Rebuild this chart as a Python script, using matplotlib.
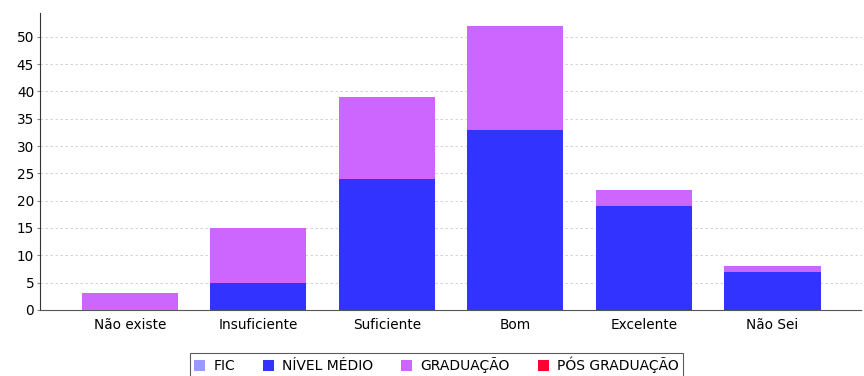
import matplotlib.pyplot as plt
import numpy as np

categorias = ['Não existe', 'Insuficiente', 'Suficiente', 'Bom', 'Excelente', 'Não Sei']
series = ['FIC', 'NÍVEL MÉDIO', 'GRADUAÇÃO', 'PÓS GRADUAÇÃO']
fic = [0, 0, 0, 0, 0, 0]
nivel_medio = [0, 5, 24, 33, 19, 7]
graduacao = [3, 10, 15, 19, 3, 1]
pos_graduacao = [0, 0, 0, 0, 0, 0]
cores = ['#9999ff', '#3333ff', '#cc66ff', '#ff0033']

fig = plt.figure(figsize=(8.64, 3.76), dpi=100)
ax = fig.add_axes([0.046, 0.176, 0.952, 0.79])

x = np.arange(len(categorias))
base = np.zeros(len(categorias))
for nome, vals, cor in zip(series, [fic, nivel_medio, graduacao, pos_graduacao], cores):
    ax.bar(x, vals, width=0.75, bottom=base, color=cor, label=nome, zorder=3)
    base = base + np.array(vals)

ax.set_xlim(-0.7, 5.7)
ax.set_ylim(0, 54.4)
ax.set_yticks(range(0, 55, 5))
ax.set_xticks(x)
ax.set_xticklabels(categorias, fontsize=9.8)
ax.tick_params(axis='y', labelsize=9.8, length=2, color='#888888', pad=2)
ax.tick_params(axis='x', length=0, pad=6)
ax.grid(axis='y', color='#cccccc', linestyle=(0, (3, 3)), linewidth=0.6, zorder=0)
for s in ['top', 'right']:
    ax.spines[s].set_visible(False)
ax.spines['left'].set_color('#333333')
ax.spines['bottom'].set_color('#555555')
ax.spines['bottom'].set_linestyle((0, (3, 1)))

leg = fig.legend(loc='lower center', bbox_to_anchor=(0.505, -0.015), ncol=4, fontsize=10,
                 frameon=True, fancybox=False, edgecolor='#333333', handlelength=0.8,
                 handleheight=0.8, handletextpad=0.6, columnspacing=2.0, borderpad=0.3,
                 borderaxespad=0.3)
leg.get_frame().set_linewidth(0.8)

plt.savefig('out.png', dpi=100)
